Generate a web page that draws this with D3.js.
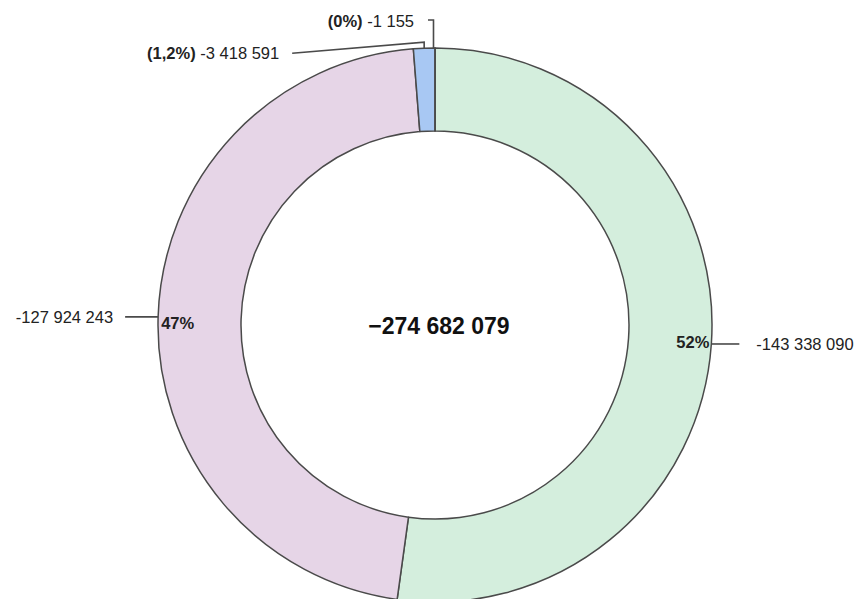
<!DOCTYPE html>
<html>
<head>
<meta charset="utf-8">
<script src="https://cdn.jsdelivr.net/npm/d3@7"></script>
<style>
  html, body { margin: 0; padding: 0; background: #fff; }
  svg { display: block; font-family: "Liberation Sans", Arial, sans-serif; }
</style>
</head>
<body>
<svg id="chart" width="858" height="599"></svg>
<script>
// ---- data ----
const categories = ["Segment A", "Segment B", "Segment C", "Segment D"];
const values = [-143338090, -127924243, -3418591, -1155];
const percentLabels = ["52%", "47%", "1,2%", "0%"];
const valueLabels = ["-143 338 090", "-127 924 243", "-3 418 591", "-1 155"];
const totalLabel = "\u2212274 682 079";
const colors = ["#d4eedd", "#e6d5e7", "#a8c8f3", "#f2c9a0"];

// ---- layout ----
const W = 858, H = 599;
const cx = 435, cy = 325;
const R = 277, r = 194;
const strokeColor = "#4a4a4a";
const fontSize = 16.5;

const svg = d3.select("#chart");
const g = svg.append("g").attr("transform", `translate(${cx},${cy})`);

const pie = d3.pie().sort(null).value(d => Math.abs(d.value));
const arcs = pie(categories.map((c, i) => ({ name: c, value: values[i], i })));

const arc = d3.arc().innerRadius(r).outerRadius(R);

g.selectAll("path.slice")
  .data(arcs)
  .join("path")
  .attr("class", "slice")
  .attr("d", arc)
  .attr("fill", d => colors[d.data.i])
  .attr("stroke", strokeColor)
  .attr("stroke-width", 1.5)
  .attr("stroke-linejoin", "round");

// point on outer edge at mid angle
function outerPoint(d) {
  const a = (d.startAngle + d.endAngle) / 2;
  return [R * Math.sin(a), -R * Math.cos(a)];
}

const lineStyle = sel => sel.attr("fill", "none").attr("stroke", strokeColor).attr("stroke-width", 1.6);

// Segment A (right side)
{
  const d = arcs[0];
  const [x, y] = outerPoint(d);
  lineStyle(g.append("path").attr("d", d3.line()([[x, y], [x + 28, y]])));
  g.append("text").attr("x", x + 45).attr("y", y).attr("dy", "0.35em")
    .attr("font-size", fontSize).attr("fill", "#222").text(valueLabels[0]);
  g.append("text").attr("x", x - 2).attr("y", y - 2).attr("dy", "0.35em")
    .attr("text-anchor", "end").attr("font-weight", "bold")
    .attr("font-size", fontSize).attr("fill", "#222").text(percentLabels[0]);
}

// Segment B (left side)
{
  const d = arcs[1];
  const [x, y] = outerPoint(d);
  lineStyle(g.append("path").attr("d", d3.line()([[x, y], [x - 33, y]])));
  g.append("text").attr("x", x - 45).attr("y", y).attr("dy", "0.35em")
    .attr("text-anchor", "end")
    .attr("font-size", fontSize).attr("fill", "#222").text(valueLabels[1]);
  g.append("text").attr("x", x + 3).attr("y", y + 6).attr("dy", "0.35em")
    .attr("font-weight", "bold")
    .attr("font-size", fontSize).attr("fill", "#222").text(percentLabels[1]);
}

// Segment C (small, top)
{
  const d = arcs[2];
  const [x, y] = outerPoint(d);
  lineStyle(g.append("path").attr("d", d3.line()([[x, y], [x, y - 6], [x - 132, y + 5]])));
  const t = g.append("text").attr("x", x - 145).attr("y", y + 5).attr("dy", "0.35em")
    .attr("text-anchor", "end").attr("font-size", fontSize).attr("fill", "#222");
  t.append("tspan").attr("font-weight", "bold").text(`(${percentLabels[2]})`);
  t.append("tspan").text(" " + valueLabels[2]);
}

// Segment D (tiny, top)
{
  const d = arcs[3];
  const [x, y] = outerPoint(d);
  lineStyle(g.append("path").attr("d", d3.line()([[x - 1.5, y], [x - 1.5, y - 28], [x - 7, y - 28]])));
  const t = g.append("text").attr("x", x - 21).attr("y", y - 27).attr("dy", "0.35em")
    .attr("text-anchor", "end").attr("font-size", fontSize).attr("fill", "#222");
  t.append("tspan").attr("font-weight", "bold").text(`(${percentLabels[3]})`);
  t.append("tspan").text(" " + valueLabels[3]);
}

// center total
g.append("text").attr("x", 4).attr("y", 1).attr("dy", "0.35em")
  .attr("text-anchor", "middle").attr("font-weight", "bold")
  .attr("font-size", 23).attr("fill", "#111").text(totalLabel);
</script>
</body>
</html>
